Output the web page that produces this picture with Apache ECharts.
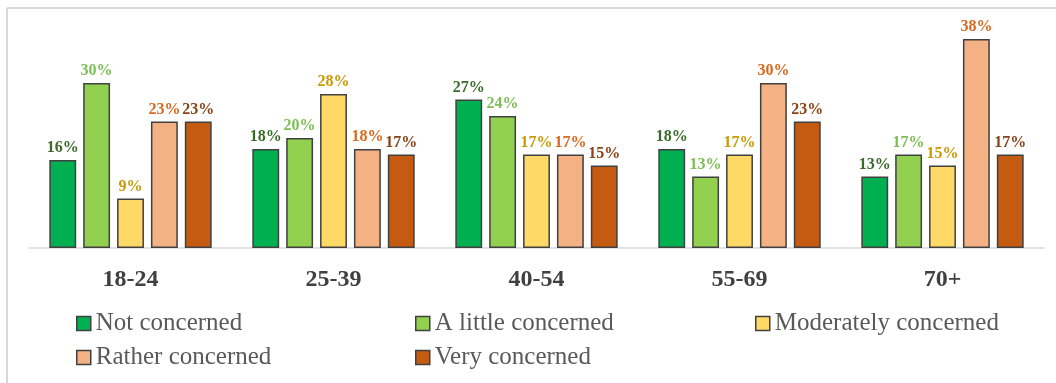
<!DOCTYPE html>
<html>
<head>
<meta charset="utf-8">
<script src="https://cdn.jsdelivr.net/npm/echarts@6/dist/echarts.min.js"></script>
<style>
  html, body { margin: 0; padding: 0; background: #fff; }
  #chart { width: 1056px; height: 383px; }
</style>
</head>
<body>
<div id="chart"></div>
<script>
// Age groups along the x axis
const categories = ['18-24', '25-39', '40-54', '55-69', '70+'];

// Share of respondents (%) per level of concern
const notConcerned = [16, 18, 27, 18, 13];
const littleConcerned = [30, 20, 24, 13, 17];
const moderatelyConcerned = [9, 28, 17, 17, 15];
const ratherConcerned = [23, 18, 17, 30, 38];
const veryConcerned = [23, 17, 15, 23, 17];

const seriesNames = ['Not concerned', 'A little concerned', 'Moderately concerned', 'Rather concerned', 'Very concerned'];
const seriesData = [notConcerned, littleConcerned, moderatelyConcerned, ratherConcerned, veryConcerned];
const barColors = ['#00B050', '#92D050', '#FFD966', '#F4B183', '#C55A11'];
const labelColors = ['#3B6B2A', '#7DBE55', '#C99A06', '#D9691E', '#8A4216'];

// Legend laid out as a grid: three columns, two rows
const legendCols = [76, 415, 755, 76, 415];
const legendRows = [311, 311, 311, 345, 345];

const serif = '"Liberation Serif", "DejaVu Serif", serif';

const chart = echarts.init(document.getElementById('chart'));

const series = seriesNames.map((name, i) => ({
  name: name,
  type: 'bar',
  data: seriesData[i],
  barGap: '26%',
  barCategoryGap: '20%',
  itemStyle: { color: barColors[i], borderColor: '#404040', borderWidth: 1.5 },
  label: {
    show: true,
    position: 'top',
    distance: 4,
    formatter: '{c}%',
    fontFamily: serif,
    fontWeight: 'bold',
    fontSize: 16,
    color: labelColors[i]
  }
}));

const legends = seriesNames.map((name, i) => ({
  left: legendCols[i],
  top: legendRows[i],
  padding: 0,
  itemWidth: 14,
  itemHeight: 14,
  itemGap: 0,
  icon: 'rect',
  itemStyle: { borderColor: '#404040', borderWidth: 1.5 },
  textStyle: { fontFamily: serif, fontSize: 25, color: '#595959', padding: [0, 0, 0, 0] },
  selectedMode: false,
  data: [name]
}));

chart.setOption({
  animation: false,
  backgroundColor: '#ffffff',
  grid: { left: 29, right: 12, top: 28, bottom: 135 },
  xAxis: {
    type: 'category',
    data: categories,
    axisLine: { lineStyle: { color: '#D9D9D9', width: 1.5 } },
    axisTick: { show: false },
    axisLabel: { fontFamily: serif, fontWeight: 'bold', fontSize: 24, color: '#404040', margin: 20 }
  },
  yAxis: {
    type: 'value',
    min: 0,
    max: 40,
    show: false,
    splitLine: { show: false }
  },
  legend: legends,
  graphic: [
    { type: 'line', shape: { x1: 7, y1: 8, x2: 1056, y2: 8 }, style: { stroke: '#D9D9D9', lineWidth: 2 } },
    { type: 'line', shape: { x1: 7, y1: 8, x2: 7, y2: 383 }, style: { stroke: '#D9D9D9', lineWidth: 2 } }
  ],
  series: series
});
</script>
</body>
</html>
